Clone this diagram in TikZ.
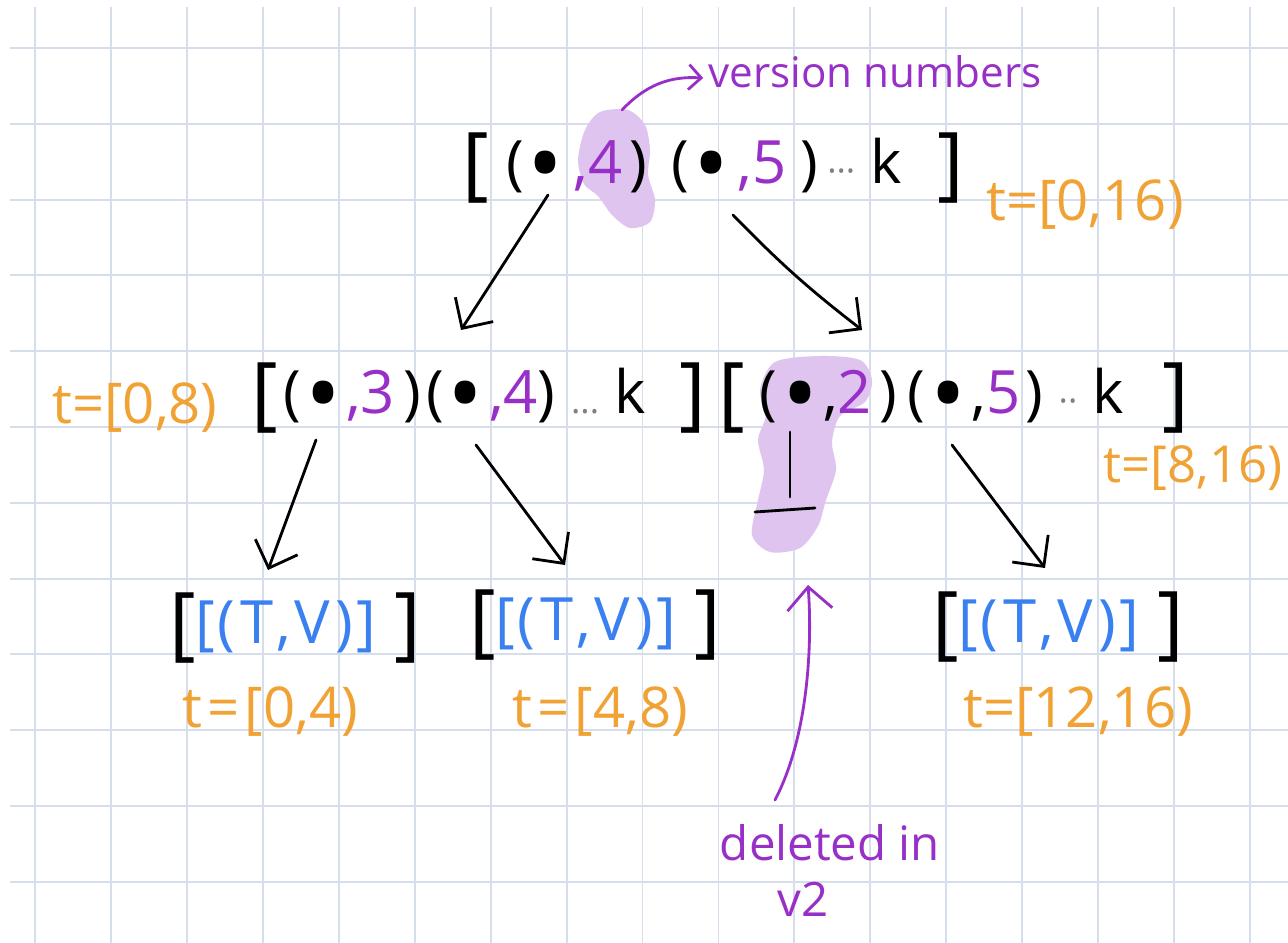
\documentclass[tikz,border=0pt]{standalone}
\usepackage{fontspec}
\setmainfont{Open Sans}
\usepackage{xcolor}
\usepackage{graphicx}
\usepackage{tikz}
\usetikzlibrary{arrows.meta,calc,positioning}
\definecolor{gridblue}{RGB}{214,222,236}
\definecolor{tsorange}{RGB}{240,162,52}
\definecolor{verpurple}{RGB}{152,48,200}
\definecolor{blobpurple}{RGB}{222,196,238}
\definecolor{leafblue}{RGB}{58,128,240}
\newcommand{\brk}[1]{\raisebox{-4pt}{\fontsize{46}{46}\selectfont #1}}
\newcommand{\ver}[1]{\textcolor{verpurple}{#1}}
\newcommand{\ent}{\raisebox{-0.24em}{\scalebox{1.6}{\textbullet}}}
\newcommand{\gdots}[1]{\textcolor{gray}{\fontsize{20}{20}\selectfont #1}}
\newcommand{\hs}[1]{\hspace{#1pt}}
\newcommand{\leaf}{\brk{[}\textcolor{leafblue}{[\hs{1}(\hs{3}T\hs{2},\hs{2}V\hs{3})\hs{2}]}\hs{10}\brk{]}}

\begin{document}
\begin{tikzpicture}[
    x=0.02cm, y=-0.02cm,
    gridline/.style={gridblue, line width=1.1pt},
    list/.style={inner sep=0pt, font=\fontsize{34}{40}\selectfont},
    trange/.style={inner sep=0pt, text=tsorange, font=\fontsize{32}{38}\selectfont},
    note/.style={inner sep=0pt, text=verpurple, font=\fontsize{25}{30}\selectfont},
    arrow/.style={-{Straight Barb[length=0.45cm,width=0.9cm]}, line width=1.6pt,
                  line cap=round, line join=round},
    blob/.style={fill=blobpurple, draw=none},
]

% Paper
\fill[white] (0,0) rectangle (1288,943);
\useasboundingbox (0,0) rectangle (1288,943);
\foreach \i in {0,...,16}
    \draw[gridline] (35+75.94*\i,7) -- (35+75.94*\i,943);
\foreach \j in {0,...,11}
    \draw[gridline] (10,48+75.8*\j) -- (1288,48+75.8*\j);

% Highlights
\fill[blob] plot[smooth cycle] coordinates {(600,112) (628,110) (645,125) (650,150)
    (648,175) (655,200) (650,222) (630,228) (612,215) (598,196) (584,184) (578,160) (585,130)};
\fill[blob] plot[smooth cycle] coordinates {(775,362) (820,356) (860,360) (872,380)
    (865,402) (840,416) (832,442) (836,470) (826,500) (818,526) (800,548) (770,552)
    (752,535) (758,500) (764,470) (758,440) (766,415) (760,390)};

% Root
\node[list] (top) at (713,168)
    {\brk{[}\hs{10}(\hs{2}\ent\hs{6}\ver{,4}\hs{4})\hs{14}(\hs{2}\ent\hs{5}\ver{,5}\hs{8})\hs{5}\gdots{···}\ k\hs{20}\brk{]}};
\node[trange] (t016) at (1085,205) {t=[0,16)};
\node[note, font=\fontsize{24}{30}\selectfont] (vnum) at (875,72) {version numbers};

% Internal nodes
\node[list] (midl) at (479,398)
    {\brk{[}\hs{3}(\hs{2}\ent\hs{3}\ver{,3}\hs{5})\hs{3}(\hs{2}\ent\hs{3}\ver{,4})\ \gdots{...}\ k\hs{19}\brk{]}};
\node[list] (midr) at (954,398)
    {\brk{[}\hs{8}(\hs{3}\ent\hs{3},\ver{2}\hs{4})\hs{6}(\hs{3}\ent\hs{3},\ver{5}\hs{3})\ \gdots{··}\ k\hs{22}\brk{]}};
\node[trange] (t08) at (135,408) {t=[0,8)};
\node[trange, font=\fontsize{29}{34}\selectfont] (t816) at (1193,468) {t=[8,16)};

% Leaves
\node[list] (b1) at (295,628) {\leaf};
\node[list] (b2) at (595,625) {\leaf};
\node[list] (b3) at (1058,627) {\leaf};
\node[trange] (t04) at (270,712) {t\hs{3}=\hs{3}[0,4)};
\node[trange] (t48) at (600,712) {t\hs{3}=\hs{3}[4,8)};
\node[trange] (t1216) at (1078,712) {t=[12,16)};

% Deleted note
\node[note, font=\fontsize{27}{32}\selectfont] (del) at (830,843) {deleted in};
\node[note, font=\fontsize{27}{32}\selectfont, below=0.4cm of del, xshift=-0.54cm] (v2) {v2};

% Arrows
\draw[arrow] ($(top)+(-165,27)$) -- ($(midl)+(-18,-68)$);
\draw[arrow] ($(top)+(20,47)$) to[bend right=4] ($(midr)+(-92,-68)$);
\draw[arrow] ($(midl)+(-163,42)$) -- ($(b1)+(-27,-58)$);
\draw[arrow] ($(midl)+(-3,47)$) -- ($(b2)+(-30,-60)$);
\draw[arrow] ($(midr)+(-2,47)$) -- ($(b3)+(-13,-59)$);

% Null child
\coordinate (nil) at ($(midr)+(-164,99)$);
\draw[line width=1.6pt, line cap=round] ($(midr)+(-164,34)$) -- (nil);
\draw[line width=1.6pt, line cap=round] ($(nil)+(-35,15)$) -- ($(nil)+(25,11)$);

% Purple notes
\draw[arrow, verpurple] ($(del)+(-55,-43)$) .. controls ($(del)+(-20,-110)$)
    and ($(nil)+(22,140)$) .. ($(nil)+(18,88)$);
\draw[arrow, verpurple, -{Straight Barb[length=0.25cm,width=0.5cm]}]
    ($(top)+(-91,-58)$) to[bend left=25] ($(vnum.west)+(-5,6)$);

\end{tikzpicture}
\end{document}
